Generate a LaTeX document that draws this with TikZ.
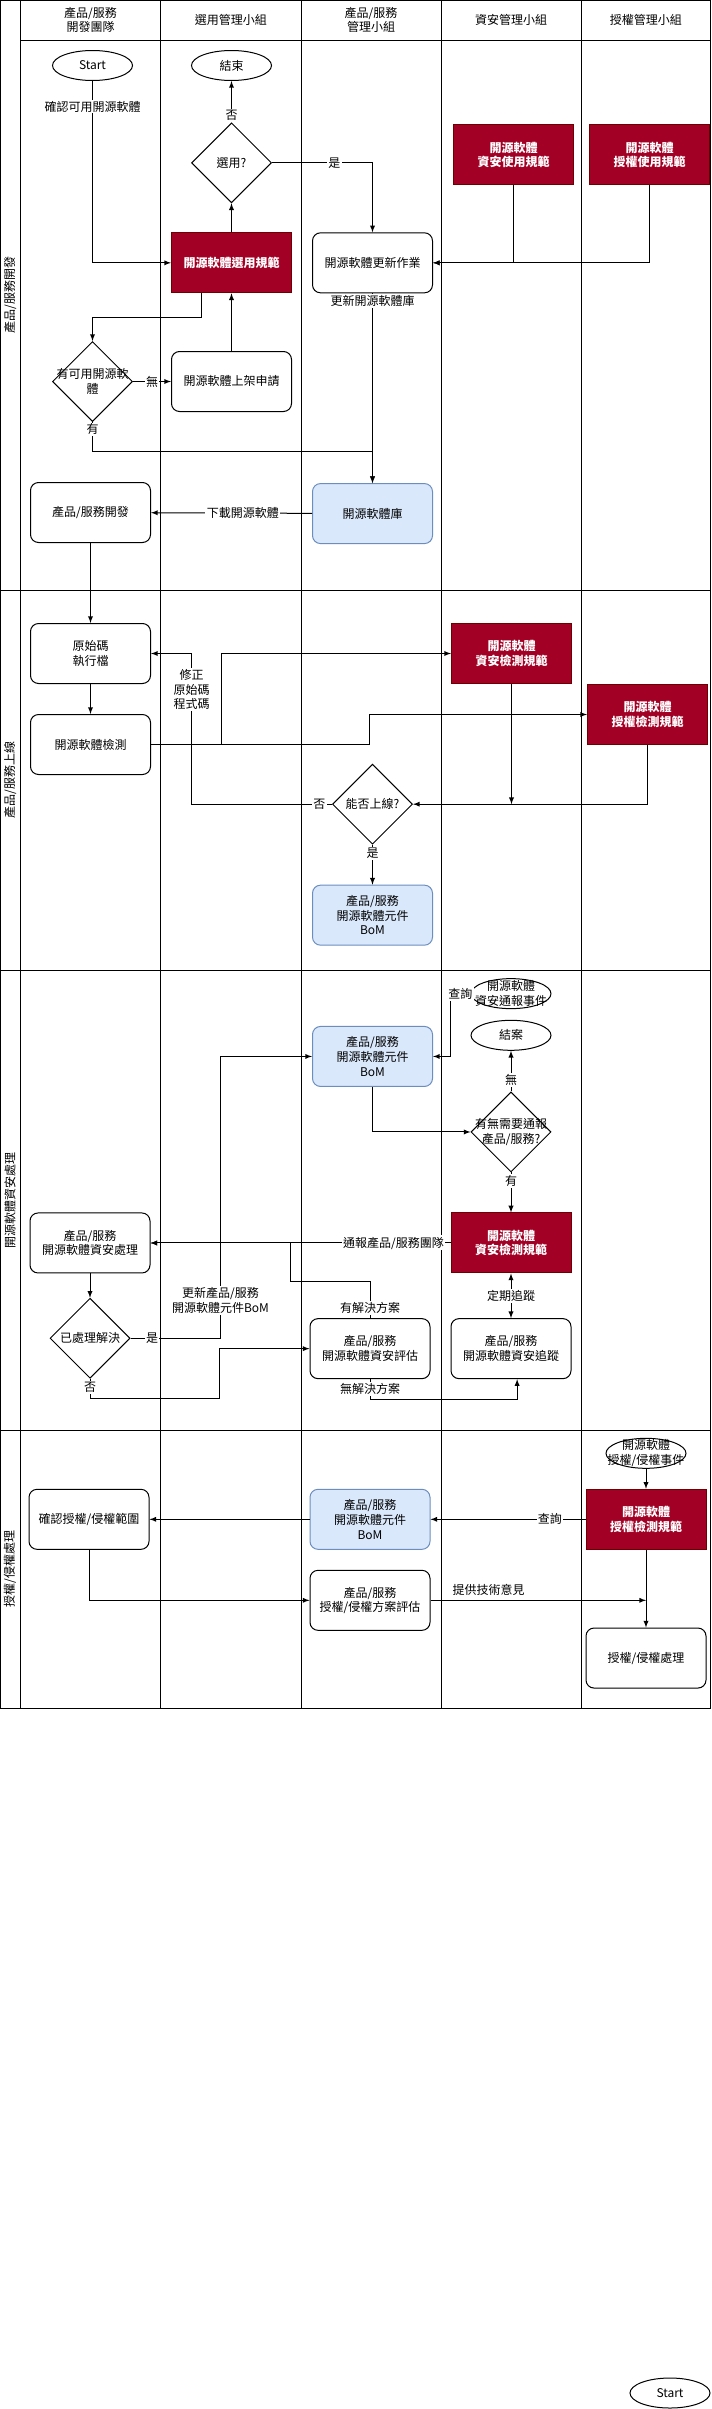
\documentclass[tikz,border=0pt]{standalone}
\usepackage{fontspec}
\setmainfont{Noto Sans CJK TC}
\usetikzlibrary{arrows, arrows.meta, positioning, shapes}
\definecolor{rulered}{HTML}{A20025}
\definecolor{ruleedge}{HTML}{6F0000}
\definecolor{repoblue}{HTML}{DAE8FC}
\definecolor{repoedge}{HTML}{6C8EBF}

\begin{document}
\begin{tikzpicture}[x=0.75pt, y=-0.75pt, line width=0.75pt, font=\fontsize{9}{11}\selectfont,
  roundnode/.style={rectangle, rounded corners=6pt, draw=black, fill=white, minimum width=90pt, minimum height=45pt, align=center},
  rulenode/.style={rectangle, draw=ruleedge, fill=rulered, text=white, font=\fontsize{9}{11}\selectfont\bfseries, minimum width=90pt, minimum height=45pt, align=center},
  reponode/.style={roundnode, draw=repoedge, fill=repoblue},
  decnode/.style={diamond, draw=black, fill=white, minimum width=60pt, minimum height=60pt, inner sep=0pt},
  endnode/.style={ellipse, draw=black, fill=white, minimum width=60pt, minimum height=22.5pt, inner sep=0pt},
  lbl/.style={fill=white, inner sep=1pt, align=center}]
\useasboundingbox (0,0) rectangle (712,2409);

% lanes
\draw (0.5,0.5) rectangle (710.5,1708);
\foreach \x in {20.5,160.5,301,441,581} \draw (\x,0.5) -- (\x,1708);
\draw (20.5,40.3) -- (710.5,40.3);
\foreach \y in {590,970,1430} \draw (0.5,\y) -- (710.5,\y);
\node (h1) [align=center, font=\fontsize{9}{10}\selectfont] at (90.5,20) {產品/服務\\開發團隊};
\node (h2) at (230.75,20) {選用管理小組};
\node (h3) [align=center, font=\fontsize{9}{10}\selectfont] at (371,20) {產品/服務\\管理小組};
\node (h4) at (511,20) {資安管理小組};
\node (h5) at (645.75,20) {授權管理小組};
\node (p1) [rotate=90] at (10,295) {產品/服務開發};
\node (p2) [rotate=90] at (10,780) {產品/服務上線};
\node (p3) [rotate=90] at (10,1200) {開源軟體資安處理};
\node (p4) [rotate=90] at (10,1569) {授權/侵權處理};

% develop
\node (1) [endnode] at (92.5,65.5) {Start};
\node (2) [endnode, right=43.5pt of 1] {結束};
\node (3) [decnode, below=31pt of 2, label={center:選用?}] {};
\node (4) [rulenode, below=21.75pt of 3] {開源軟體選用規範};
\node (5) [roundnode, right=15pt of 4] {開源軟體更新作業};
\node (6) [rulenode, above right=35.25pt and 15pt of 5] {開源軟體\\資安使用規範};
\node (7) [rulenode, right=11.25pt of 6] {開源軟體\\授權使用規範};
\node (8) [decnode, below=195pt of 1, label={[align=center]center:{有可用開源軟\\體}}] {};
\node (9) [roundnode, right=28.5pt of 8] {開源軟體上架申請};
\node (10) [roundnode, below=45pt of 8, xshift=-1.5pt] {產品/服務開發};
\node (11) [reponode, below=142.3pt of 5] {開源軟體庫};
\draw [-latex] (1) |- (4) node [pos=0.07, lbl] {確認可用開源軟體};
\draw [-latex] (4) -- (3);
\draw [-latex] (3) -- (2) node [pos=0.17, lbl] {否};
\draw [-latex] (3) -| (5) node [pos=0.31, lbl] {是};
\draw [-latex] (6) |- (5);
\draw [-latex] (7) |- (5);
\draw [-latex] ([xshift=-22.5pt]4.south) -- ++(0,24) -| (8);
\draw [-latex] (8) -- (9) node [midway, lbl] {無};
\draw [-latex] (9) -- (4);
\draw [-latex] (8.south) -- ++(0,29.6) node [pos=0.25, lbl] {有} -| (11);
\draw [-latex] (5) -- (11) node [pos=0.04, lbl] {更新開源軟體庫};
\draw [-latex] (11) -- (10) node [pos=0.43, lbl] {下載開源軟體};

% go live
\node (12) [roundnode, below=60pt of 10] {原始碼\\執行檔};
\node (13) [roundnode, below=22.5pt of 12] {開源軟體檢測};
\node (14) [rulenode, right=225pt of 12] {開源軟體\\資安檢測規範};
\node (15) [rulenode, below right=0pt and 11.25pt of 14] {開源軟體\\授權檢測規範};
\node (16) [decnode, below=164.7pt of 11, label={center:能否上線?}] {};
\node (17) [reponode, below=30pt of 16] {產品/服務\\開源軟體元件\\BoM};
\draw [-latex] (10) -- (12);
\draw [-latex] (12) -- (13);
\draw [-latex] (13.east) -- ++(70,0) |- (14);
\draw [-latex] (13.east) -- ++(218.5,0) |- (15);
\draw [-latex] (14) -- (14 |- 16);
\draw [-latex] (15) |- (16);
\draw [-latex] (16.west) -- ++(-140.5,0) node [pos=0.09, lbl] {否} |- (12) node [pos=0.38, lbl] {修正\\原始碼\\程式碼};
\draw [-latex] (16) -- (17) node [pos=0.22, lbl] {是};

% security
\node (19) [endnode] at (511,1035.3) {結案};
\node (18) [endnode, above=8pt of 19, label={[align=center]center:{開源軟體\\資安通報事件}}] {};
\node (20) [reponode, below=60.2pt of 17] {產品/服務\\開源軟體元件\\BoM};
\node (21) [decnode, below=30.5pt of 19, label={[align=center]center:{有無需要通報\\產品/服務?}}] {};
\node (22) [rulenode, below=30pt of 21] {開源軟體\\資安檢測規範};
\node (23) [roundnode, left=225pt of 22] {產品/服務\\開源軟體資安處理};
\node (24) [decnode, below=18.2pt of 23, label={center:已處理解決}] {};
\node (26) [roundnode, below=33.5pt of 22] {產品/服務\\開源軟體資安追蹤};
\node (25) [roundnode, left=15pt of 26] {產品/服務\\開源軟體資安評估};
\draw [-latex] (18.west) -- ++(-20.4,0) node [midway, lbl] {查詢} |- (20);
\draw [-latex] (20) |- (21);
\draw [-latex] (21) -- (19) node [pos=0.28, lbl] {無};
\draw [-latex] (21) -- (22) node [pos=0.22, lbl] {有};
\draw [-latex] (22) -- (23) node [pos=0.19, lbl] {通報產品/服務團隊};
\draw [-latex] (25.north) -- ++(0,-37) node [pos=0.28, lbl] {有解決方案} -| ([xshift=105pt]23.east) -- (23.east);
\draw [-latex] (23) -- (24);
\draw [-latex] (24.east) -- ++(90,0) node [pos=0.24, lbl] {是} |- (20) node [pos=0.067, lbl] {更新產品/服務\\開源軟體元件BoM};
\draw [-latex] (24.south) -- ++(0,20) node [pos=0.45, lbl] {否} -| ([xshift=-67.5pt]25.west) -- (25.west);
\draw [-latex] (25.south) -- ++(0,20) node [pos=0.5, lbl] {無解決方案} -| ([xshift=4.6pt]26.south);
\draw [latex-latex] (22) -- (26) node [midway, lbl] {定期追蹤};

% license
\node (27) [endnode, label={[align=center]center:{開源軟體\\授權/侵權事件}}] at (646,1453.3) {};
\node (28) [rulenode, below=15pt of 27] {開源軟體\\授權檢測規範};
\node (29) [reponode, left=116.25pt of 28] {產品/服務\\開源軟體元件\\BoM};
\node (30) [roundnode, left=120pt of 29] {確認授權/侵權範圍};
\node (31) [roundnode, below=15pt of 29] {產品/服務\\授權/侵權方案評估};
\node (32) [roundnode, below=58.3pt of 28] {授權/侵權處理};
\draw [-latex] (27) -- (28);
\draw [-latex] (28) -- (29) node [pos=0.23, lbl] {查詢};
\draw [-latex] (29) -- (30);
\draw [-latex] (30) |- (31);
\draw [-latex] (31) -- (31 -| 28) node [pos=0.27, above] {提供技術意見};
\draw [-latex] (28) -- (32);

\node (33) [endnode] at (670,2393) {Start};
\end{tikzpicture}
\end{document}
